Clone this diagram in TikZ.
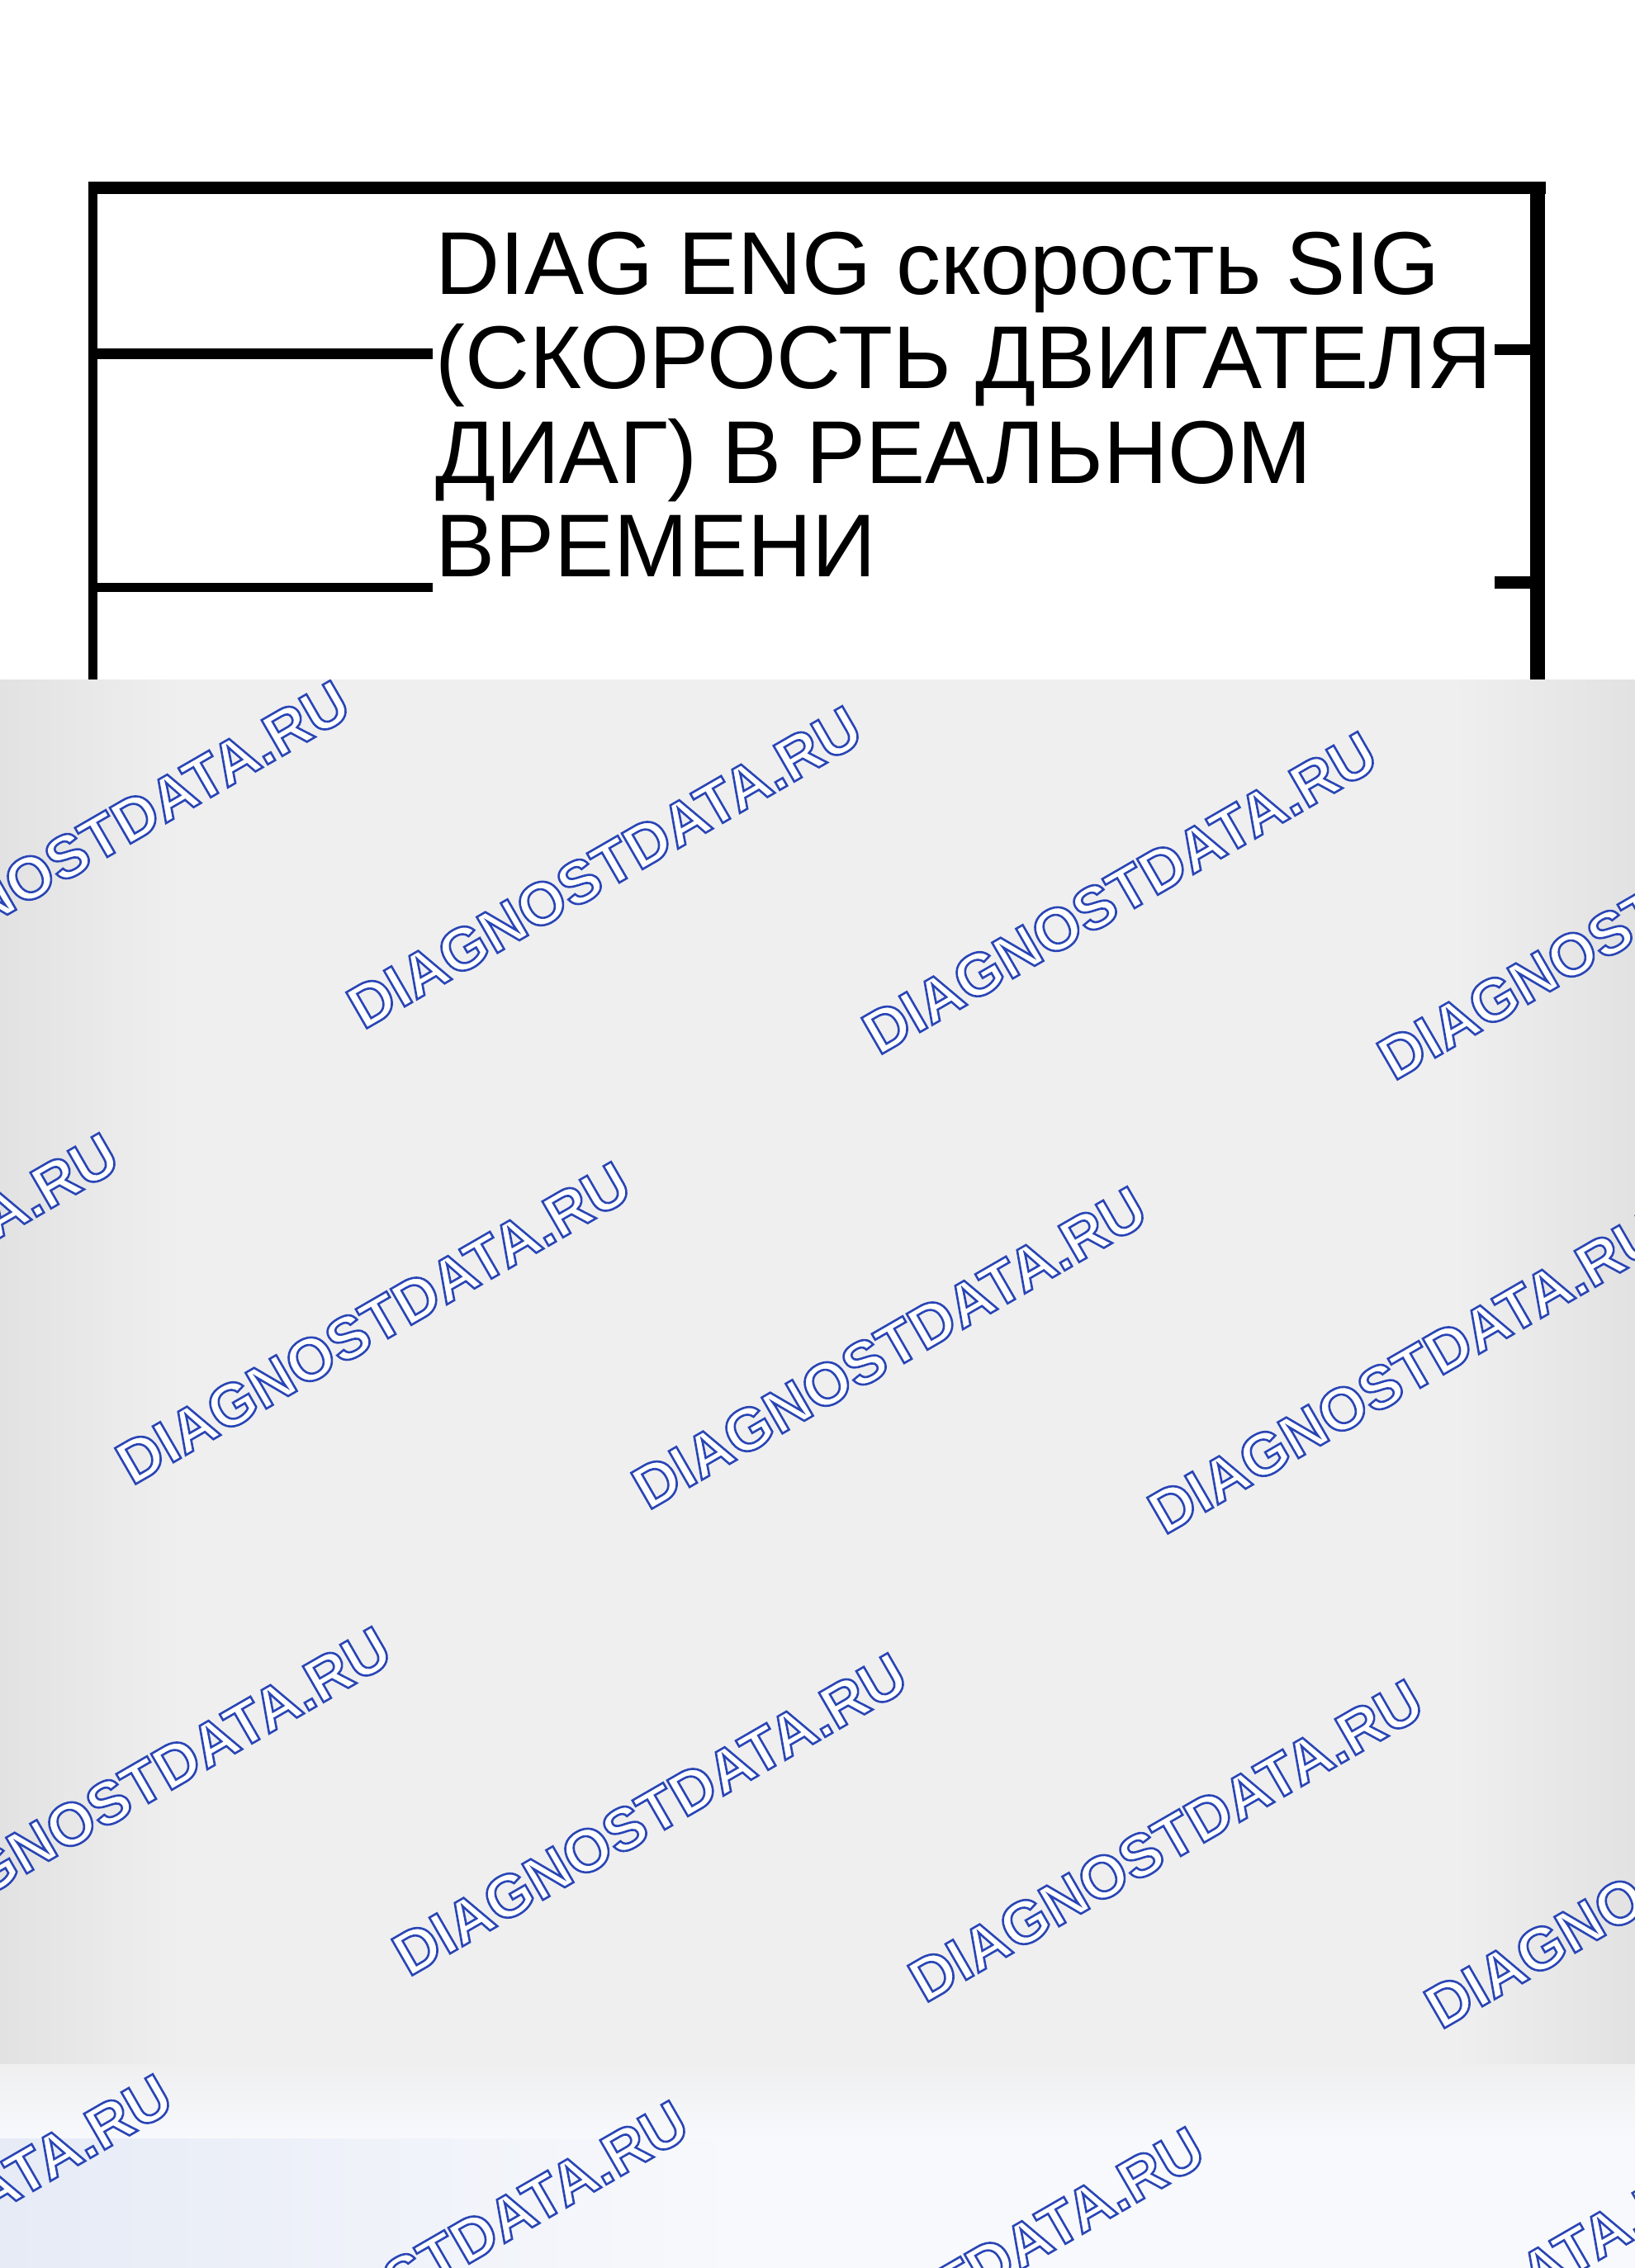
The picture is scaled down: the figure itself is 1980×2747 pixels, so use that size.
\documentclass[tikz,border=0pt]{standalone}
\usepackage{fontspec}
\setmainfont{Liberation Sans}
\newfontfamily\wmfont{Liberation Sans}[UprightFont={* Bold}]
\usetikzlibrary{calc}
\definecolor{bggray}{RGB}{239,239,240}
\definecolor{bgdark}{RGB}{226,226,227}
\definecolor{bgwhite}{RGB}{248,249,252}
\definecolor{bgblue}{RGB}{230,235,246}
\newcommand\wmout[1]{\special{pdf:literal direct 2 Tr 2.6 w 0.16 0.27 0.71 RG 1 g}#1\special{pdf:literal direct 0 Tr}}
\begin{document}
\begin{tikzpicture}[x=1pt,y=-1pt,
  wire/.style={line width=#1, line cap=butt},
  lbl/.style={anchor=base west, inner sep=0pt, font=\fontsize{108}{114}\selectfont},
  wm/.style={rotate=30, anchor=base west, inner sep=0pt, text=white,
    font=\wmfont\fontsize{73}{73}\selectfont}]
\useasboundingbox (0,0) rectangle (1980,2747);
% backgrounds
\fill[white] (0,0) rectangle (1980,823);
\fill[bggray] (0,823) rectangle (1980,2520);
\shade[left color=bgdark, right color=bggray] (0,823) rectangle (220,2520);
\shade[left color=bggray, right color=bgdark] (1760,823) rectangle (1980,2520);
\shade[top color=bggray, bottom color=bgwhite] (0,2500) rectangle (1980,2590);
\fill[bgwhite] (0,2590) rectangle (1980,2747);
\shade[left color=bgblue, right color=bgwhite] (0,2590) rectangle (900,2747);
% box frame
\coordinate (tl) at (107,227);
\coordinate (tr) at (1872,227);
\draw[wire=15pt] (tl) -- (tr);
\draw[wire=11pt] (112.5,220) -- (112.5,823);
\draw[wire=18pt] (1862,220) -- (1862,823);
% wires
\coordinate (w1a) at (118,428);
\coordinate (w1b) at (524,428);
\coordinate (w2a) at (1810,423);
\coordinate (w2b) at (1853,423);
\coordinate (w3a) at (118,711);
\coordinate (w3b) at (524,711);
\coordinate (w4a) at (1810,705);
\coordinate (w4b) at (1853,705);
\draw[wire=13pt] (w1a) -- (w1b);
\draw[wire=13pt] (w2a) -- (w2b);
\draw[wire=11pt] (w3a) -- (w3b);
\draw[wire=15pt] (w4a) -- (w4b);
% label
\node[lbl] (l1) at (527,356) {DIAG ENG скорость SIG};
\node[lbl] (l2) at (527,470) {(СКОРОСТЬ ДВИГАТЕЛЯ};
\node[lbl] (l3) at (527,585) {ДИАГ) В РЕАЛЬНОМ};
\node[lbl] (l4) at (527,698) {ВРЕМЕНИ};
% watermarks
\begin{scope}
\clip (0,823) rectangle (1980,2747);
\foreach \n/\x/\y in {a/-180/1217, b/440/1248, c/1064/1279, d/1688/1310,
  e/-460/1765, f/160/1800, g/785/1830, h/1410/1860,
  i/-130/2363, j/495/2395, k/1120/2427, l/1745/2459,
  m/-395/2905, n/230/2937, o/855/2969, p/1480/3001}
  \node[wm] (wm\n) at (\x,\y) {\wmout{DIAGNOSTDATA.RU}};
\end{scope}
\end{tikzpicture}
\end{document}
